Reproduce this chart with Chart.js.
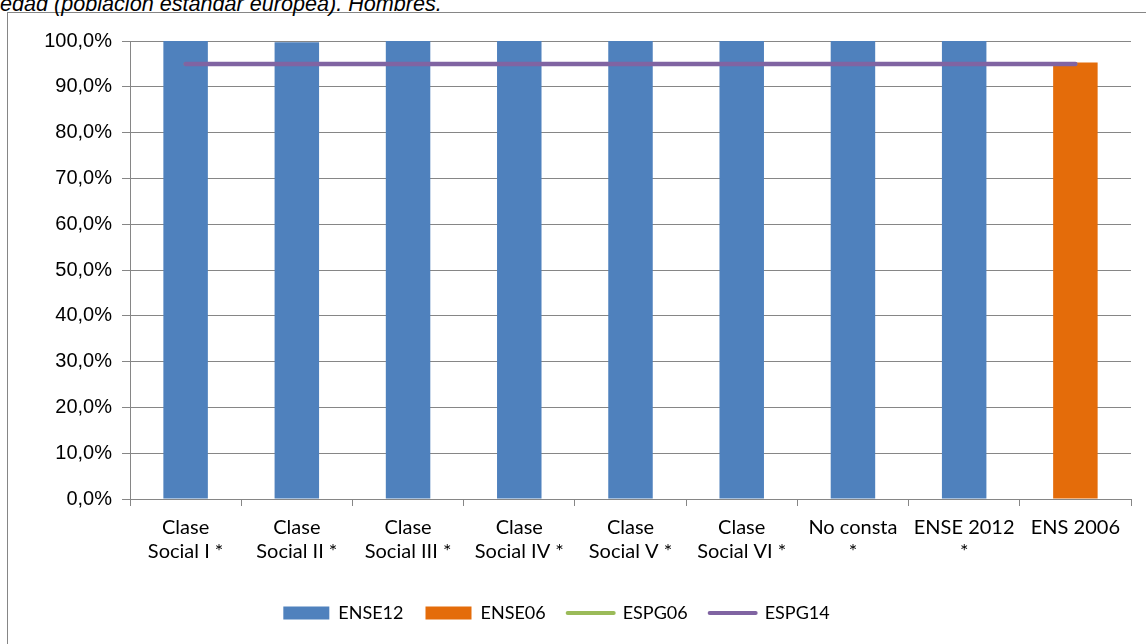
<!DOCTYPE html>
<html><head><meta charset="utf-8">
<script src="https://cdn.jsdelivr.net/npm/chart.js@4"></script>
<style>
html,body{margin:0;padding:0;background:#fff;overflow:hidden;}
#wrap{position:relative;width:1146px;height:644px;overflow:hidden;}
#frame{position:absolute;left:7px;top:12px;width:1200px;height:700px;border:1px solid #868686;box-sizing:border-box;}
#title{position:absolute;left:0;top:-9px;font:italic 21.6px "Liberation Sans",Arial,sans-serif;color:#000;white-space:nowrap;}
canvas{position:absolute;left:0;top:0;}
</style></head>
<body><div id="wrap"><div id="frame"></div><div id="title">edad (población estándar europea). Hombres.</div><canvas id="c" width="1146" height="644"></canvas></div>
<script>
const categories = [["Clase","Social I *"],["Clase","Social II *"],["Clase","Social III *"],["Clase","Social IV *"],["Clase","Social V *"],["Clase","Social VI *"],["No consta","*"],["ENSE 2012","*"],"ENS 2006"];
const ense12 = [100, 99.7, 100, 100, 100, 100, 100, 100, null];
const ense06 = [null, null, null, null, null, null, null, null, 95.3];
const espg06 = [95, 95, 95, 95, 95, 95, 95, 95, 95];
const espg14 = [95, 95, 95, 95, 95, 95, 95, 95, 95];
const yMin = 0, yMax = 100, yStep = 10;

const legendShift = {
  id: 'legendShift',
  afterLayout(chart) {
    if (chart.legend) { chart.legend.left -= 14; chart.legend.right -= 14; }
  }
};

new Chart(document.getElementById('c'), {
  data: {
    labels: categories,
    datasets: [
      {type:'bar', label:'ENSE12', data: ense12, backgroundColor:'#4F81BD', skipNull:true, barPercentage:0.4, categoryPercentage:1.0, order:3},
      {type:'bar', label:'ENSE06', data: ense06, backgroundColor:'#E46C0A', skipNull:true, barPercentage:0.4, categoryPercentage:1.0, order:2},
      {type:'line', label:'ESPG06', data: espg06, borderColor:'#9BBB59', backgroundColor:'#9BBB59', borderWidth:4, pointRadius:0, borderCapStyle:'round', fill:false, order:1},
      {type:'line', label:'ESPG14', data: espg14, borderColor:'#8064A2', backgroundColor:'#8064A2', borderWidth:4.5, pointRadius:0, borderCapStyle:'round', fill:false, order:0}
    ]
  },
  options: {
    responsive:false, animation:false, devicePixelRatio:1,
    layout:{padding:{left:10, right:15, top:41, bottom:12}},
    plugins:{
      tooltip:{enabled:false},
      legend:{
        position:'bottom',
        labels:{
          font:{family:'Lato', size:18}, color:'#000', padding:22,
          usePointStyle:true, pointStyleWidth:46, boxHeight:13,
          sort:(a,b)=>a.datasetIndex-b.datasetIndex,
          generateLabels(chart){
            const items = Chart.defaults.plugins.legend.labels.generateLabels(chart);
            items.forEach(it=>{
              const ds = chart.data.datasets[it.datasetIndex];
              if (ds.type === 'line') { it.pointStyle='line'; it.lineWidth=4; it.strokeStyle=ds.borderColor; it.lineCap='round'; }
              else { it.pointStyle='rect'; it.lineWidth=0; it.fillStyle=ds.backgroundColor; }
            });
            return items;
          }
        }
      }
    },
    scales:{
      x:{
        offset:true,
        grid:{display:true, drawOnChartArea:false, drawTicks:true, tickLength:7, color:'#868686', offset:true},
        border:{display:true, color:'#868686'},
        ticks:{font:{family:'Lato', size:20}, color:'#000', maxRotation:0, autoSkip:false, padding:10},
        afterFit(s){ s.height = 83; }
      },
      y:{
        min:yMin, max:yMax,
        grid:{color:'#868686', tickLength:8, drawTicks:true},
        border:{display:true, color:'#868686'},
        ticks:{stepSize:yStep, font:{family:'Liberation Sans', size:20}, color:'#000', padding:10,
          callback:v=>v.toFixed(1).replace('.',',')+'%'},
        afterFit(s){ s.width = 120; }
      }
    }
  },
  plugins:[legendShift]
});
</script>
</body></html>
